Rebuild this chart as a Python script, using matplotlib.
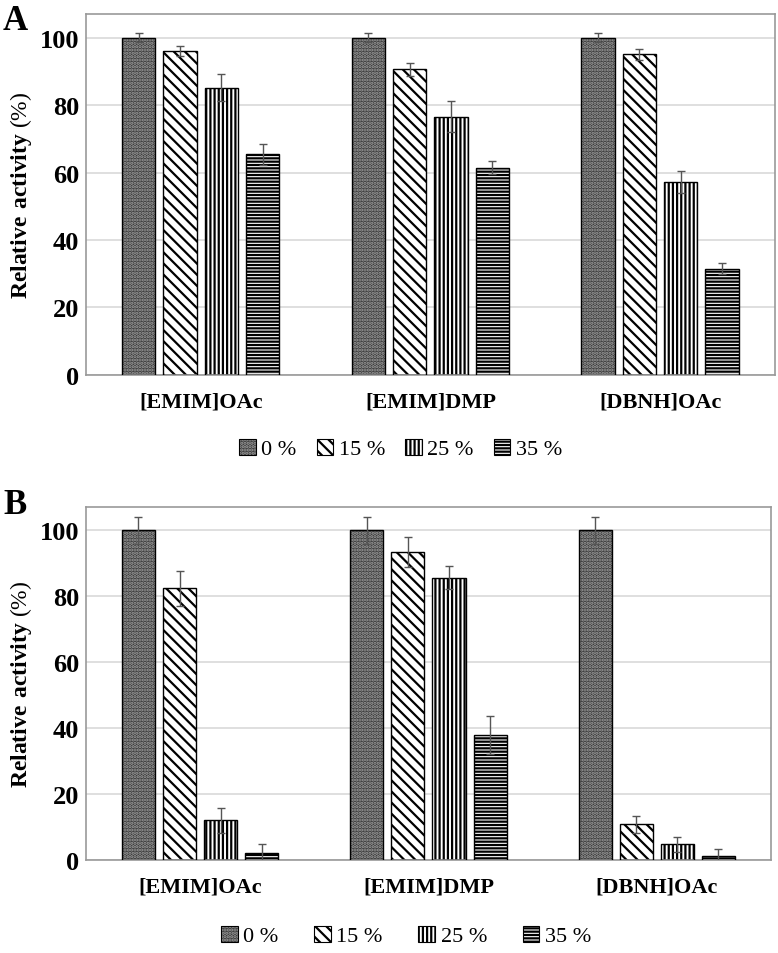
import matplotlib.pyplot as plt
import numpy as np
from matplotlib.patches import Patch

plt.rcParams['font.family'] = ['Liberation Serif', 'DejaVu Serif']
plt.rcParams['mathtext.fontset'] = 'custom'
plt.rcParams['mathtext.rm'] = 'Liberation Serif'
plt.rcParams['mathtext.bf'] = 'Liberation Serif:bold'
plt.rcParams['hatch.linewidth'] = 1.6

# data
solvents = ['[EMIM]OAc', '[EMIM]DMP', '[DBNH]OAc']
conc_labels = ['0 %', '15 %', '25 %', '35 %']

a_vals = [[100, 100, 100], [96.1, 90.6, 95.0], [85.1, 76.6, 57.2], [65.4, 61.4, 31.5]]
a_errs = [[1.4, 1.4, 1.4], [1.5, 1.9, 1.7], [4.0, 4.5, 3.4], [3.1, 1.9, 1.7]]

b_vals = [[100, 100, 100], [82.4, 93.4, 10.8], [12.0, 85.6, 4.7], [2.1, 37.8, 1.2]]
b_errs = [[4.1, 4.1, 4.1], [5.3, 4.6, 2.6], [3.9, 3.4, 2.2], [2.6, 5.8, 2.1]]

hatches = ['.....', '\\\\\\', '||||', '-----']
faces = ['#3a3a3a', 'white', 'white', 'white']
hcols = ['#a0a0a0', 'black', 'black', 'black']

fig = plt.figure(figsize=(7.78, 9.54), dpi=100)
ax_a = fig.add_axes([0.1105, 0.6059, 0.8855, 0.3784])
ax_b = fig.add_axes([0.1105, 0.0975, 0.8805, 0.3700])

x = np.arange(len(solvents))
width = 0.145
step = 0.18


def draw(ax, vals, errs):
    for i in range(4):
        pos = x + (i - 1.5) * step
        ax.bar(pos, vals[i], width, color=faces[i], edgecolor=hcols[i],
               hatch=hatches[i], linewidth=0, zorder=2)
        ax.bar(pos, vals[i], width, fill=False, edgecolor='black',
               linewidth=1.0, zorder=3)
        ax.errorbar(pos, vals[i], yerr=errs[i], fmt='none', ecolor='#555555',
                    elinewidth=1, capsize=3, capthick=1, zorder=4)
    ax.set_xlim(-0.5, 2.5)
    ax.set_ylim(0, 107)
    ax.set_yticks([0, 20, 40, 60, 80, 100])
    ax.set_xticks(x)
    ax.set_xticklabels(solvents, fontsize=16, fontweight='bold')
    ax.tick_params(axis='y', length=0, labelsize=19, pad=5)
    ax.tick_params(axis='x', length=0, pad=12)
    for lab in ax.get_yticklabels():
        lab.set_fontweight('bold')
    ax.grid(axis='y', color='#d9d9d9', linewidth=1.2, zorder=0)
    ax.set_axisbelow(True)
    for s in ax.spines.values():
        s.set_color('#999999')
        s.set_linewidth(1.2)
    ax.set_ylabel(r'$\mathbf{Relative\ activity}$ (%)', fontsize=17, labelpad=4)


draw(ax_a, a_vals, a_errs)
draw(ax_b, b_vals, b_errs)

handles = []
for i in range(4):
    handles.append((Patch(facecolor=faces[i], edgecolor=hcols[i], hatch=hatches[i], linewidth=0),
                    Patch(fill=False, edgecolor='black', linewidth=0.8)))

fig.legend(handles, conc_labels, loc='center', bbox_to_anchor=(0.515, 1 - 450 / 954),
           ncol=4, frameon=False, fontsize=16, handlelength=0.75, handleheight=0.75,
           handletextpad=0.25, columnspacing=0.9)
fig.legend(handles, conc_labels, loc='center', bbox_to_anchor=(0.522, 1 - 937 / 954),
           ncol=4, frameon=False, fontsize=16, handlelength=0.75, handleheight=0.75,
           handletextpad=0.25, columnspacing=1.6)

fig.text(0.004, 0.995, 'A', fontsize=25, fontweight='bold', va='top', ha='left')
fig.text(0.004, 0.487, 'B', fontsize=25, fontweight='bold', va='top', ha='left')

fig.savefig('out.png', dpi=100)
